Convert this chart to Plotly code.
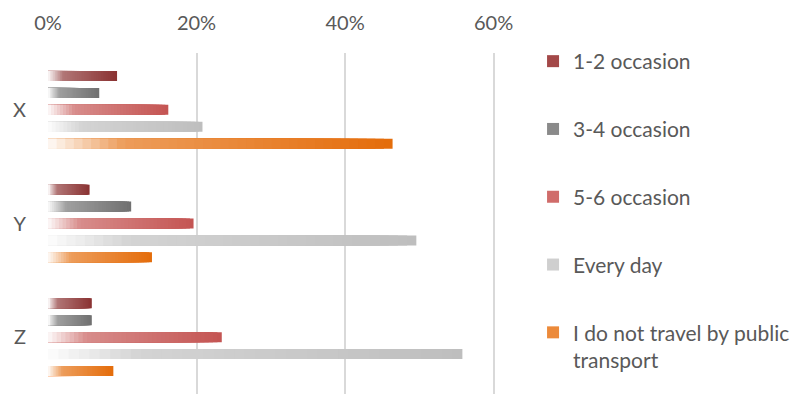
import plotly.graph_objects as go

# Survey responses: how often people travel by public transport, per group
groups = ["X", "Y", "Z"]
series_names = [
    "1-2 occasion",
    "3-4 occasion",
    "5-6 occasion",
    "Every day",
    "I do not travel by public<br>transport",
]
occ_1_2 = [9.3, 5.6, 5.9]
occ_3_4 = [6.9, 11.2, 5.9]
occ_5_6 = [16.2, 19.6, 23.4]
every_day = [20.8, 49.6, 55.8]
no_public = [46.4, 14.0, 8.8]
series_values = [occ_1_2, occ_3_4, occ_5_6, every_day, no_public]

x_ticks = [0, 20, 40, 60]
x_tick_labels = ["0%", "20%", "40%", "60%"]

# Full colour at the right end of each bar, and the legend swatch colour
end_colors = [(138, 50, 50), (112, 112, 112), (196, 84, 82), (190, 190, 190), (228, 108, 10)]
legend_colors = ["#a34848", "#8a8a8a", "#d06c6a", "#cfcfcf", "#ec8a3a"]

N_STEPS = 40          # number of overlaid segments used to fake a left-to-right gradient
BAR_W = 0.088         # bar thickness in category units
SLOT = 0.149          # distance between neighbouring bars inside a group
FONT = dict(family="Lato, 'Open Sans', sans-serif", size=20, color="#595959")
LEGEND_FONT = dict(family="Lato, 'Open Sans', sans-serif", size=21, color="#595959")


def white_mix(t):
    """Share of white mixed into the bar colour at relative position t (0 = left, 1 = right)."""
    if t < 0.22:
        return 0.97 - (0.97 - 0.33) * (t / 0.22)
    return 0.33 * (1 - (t - 0.22) / 0.78)


def tint(rgb, w):
    r, g, b = (round(c + (255 - c) * w) for c in rgb)
    return f"rgb({r},{g},{b})"


fig = go.Figure()

for i, (name, vals, rgb) in enumerate(zip(series_names, series_values, end_colors)):
    offset = (i - 2) * SLOT - BAR_W / 2
    # longest segment first, shorter (lighter) ones drawn on top of it
    for k in range(N_STEPS):
        frac = 1 - k / N_STEPS
        t = 1 - (k + 0.5) / N_STEPS
        fig.add_trace(go.Bar(
            x=[v * frac for v in vals],
            y=groups,
            orientation="h",
            offset=offset,
            width=BAR_W,
            marker=dict(color=tint(rgb, white_mix(t)), line=dict(width=0)),
            legendgroup=name,
            showlegend=False,
            hoverinfo="skip" if k else "x+y+name",
            name=name,
        ))
    # legend entry
    fig.add_trace(go.Bar(
        x=[None], y=[None], orientation="h",
        marker=dict(color=legend_colors[i], line=dict(width=0)),
        name=name, legendgroup=name, showlegend=True,
    ))

fig.update_layout(
    width=804,
    height=394,
    margin=dict(l=48, r=303, t=53, b=0),
    barmode="overlay",
    paper_bgcolor="white",
    plot_bgcolor="white",
    font=FONT,
    legend=dict(
        xref="container", yref="container",
        x=0.663, y=1 - 41 / 394, xanchor="left", yanchor="top",
        traceorder="grouped",
        tracegroupgap=37.5,
        valign="top",
        font=LEGEND_FONT,
        itemwidth=30,
        maxheight=1,
        bgcolor="rgba(0,0,0,0)",
    ),
    xaxis=dict(
        side="top",
        range=[0, 61],
        tickvals=x_ticks,
        ticktext=x_tick_labels,
        showgrid=True,
        gridcolor="#d9d9d9",
        gridwidth=1.5,
        zeroline=False,
        showline=False,
        ticks="",
        ticklabelstandoff=18,
        tickfont=FONT,
        fixedrange=True,
    ),
    yaxis=dict(
        type="category",
        categoryorder="array",
        categoryarray=groups,
        range=[2.5, -0.5],
        showgrid=False,
        zeroline=False,
        showline=False,
        ticks="",
        ticklabelstandoff=21,
        tickfont=FONT,
        fixedrange=True,
    ),
)

fig.write_html("out.html")
